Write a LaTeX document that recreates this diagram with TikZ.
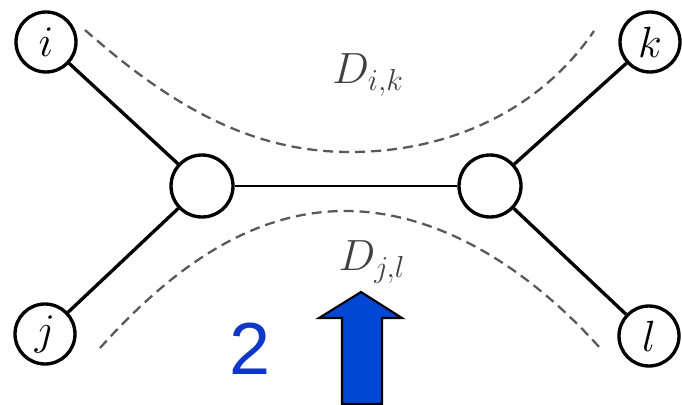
\documentclass[tikz,border=0pt]{standalone}
\usepackage{fontspec}
\setsansfont{Liberation Sans}
\usepackage{amsmath}
\usepackage{tikz}
\usetikzlibrary{positioning}
\definecolor{arrblue}{RGB}{0,72,212}
\definecolor{numblue}{RGB}{16,56,200}
\begin{document}
\begin{tikzpicture}[x=0.02cm, y=-0.02cm,
  leaf/.style={circle, draw=black, line width=1.9pt, fill=white,
               minimum size=1.2cm, inner sep=0pt,
               font=\fontsize{25}{28}\selectfont},
  hub/.style={leaf, minimum size=1.24cm},
  edge/.style={line width=1.9pt, black},
  split/.style={black!65, line width=1.3pt,
                dash pattern=on 0.2cm off 0.12cm},
  lb/.style={black!75, font=\fontsize{26}{30}\selectfont}
]
\useasboundingbox (0,0) rectangle (682,405);
% ---- arbre : deux noeuds internes, quatre feuilles ----------------------
\node[hub] (u) at (202,186) {};
\node[hub] (v) at (490,186) {};
\node[leaf] (i) at (46,42) {$i$};
\node[leaf] (j) at (45,334) {$j$};
\node[leaf] (k) at (650,42) {$k$};
\node[leaf] (l) at (649,336) {$l$};
\draw[edge] (i) -- (u);
\draw[edge] (j) -- (u);
\draw[edge] (k) -- (v);
\draw[edge] (l) -- (v);
\draw[edge, line width=1.6pt] (u) -- (v);

% ---- chemins en pointilles ----------------------------------------------
\coordinate (ti) at (85,30);
\coordinate (tk) at (594,31);
\coordinate (bj) at (100,348);
\coordinate (bl) at (600,348);
\draw[split] (ti) .. controls (170,105) and (250,152) .. (350,152)
  .. controls (450,152) and (540,110) .. (tk);
\draw[split] (bj) .. controls (170,270) and (250,211) .. (345,211)
  .. controls (440,211) and (530,270) .. (bl);
\node[lb] (dik) at (368,75) {$D_{i,k}$};
\node[lb] (djl) at (372,262) {$D_{j,l}$};

% ---- fleche bleue -------------------------------------------------------
\node[numblue, font=\sffamily\fontsize{42}{46}\selectfont] (two) at (250,349) {2};
\draw[black, line width=1.2pt, fill=arrblue, line join=miter]
  (342,404) -- (342,318) -- (319,318) -- (361,292) -- (402,318)
  -- (382,318) -- (382,404) -- cycle;
\end{tikzpicture}
\end{document}
